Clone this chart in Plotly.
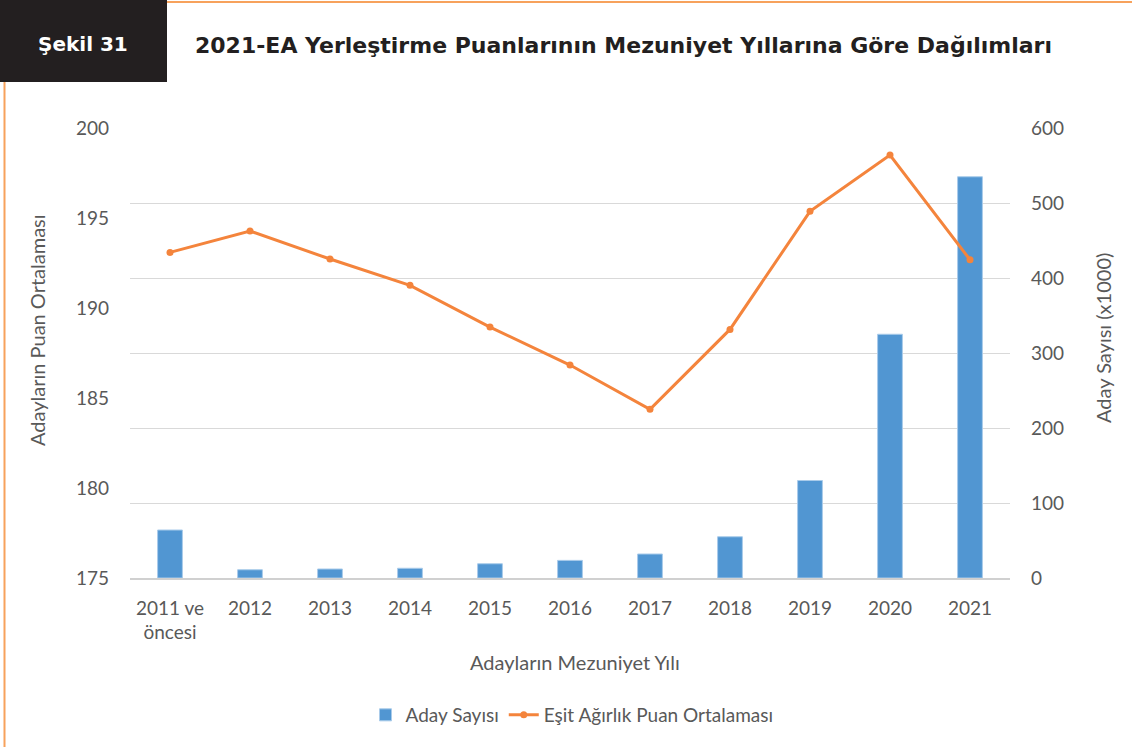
import plotly.graph_objects as go

# Mezuniyet yılları ve seriler
years = ["2011 ve<br>öncesi", "2012", "2013", "2014", "2015", "2016",
         "2017", "2018", "2019", "2020", "2021"]
aday_sayisi = [64, 11, 12, 13, 19, 23.5, 32, 55, 130, 325, 535]  # x1000
ea_puan = [193.09, 194.28, 192.72, 191.26, 188.94, 186.83,
           184.37, 188.81, 195.37, 198.5, 192.68]

left_ticks = [175, 180, 185, 190, 195, 200]
right_ticks = [0, 100, 200, 300, 400, 500, 600]

W, H = 1132, 747
ML, MR, MT, MB = 130, 122, 128, 169
PW, PH = W - ML - MR, H - MT - MB


def px(x):
    return (x - ML) / PW


def py(y):
    return (H - MB - y) / PH


BLUE = "#5196d2"
ORANGE = "#f4843c"
GREY = "#595959"
FONT = "Lato"
HEAD_FONT = "DejaVu Sans"

fig = go.Figure()
fig.add_trace(go.Bar(
    x=years, y=aday_sayisi, name="Aday Sayısı",
    marker=dict(color=BLUE, line=dict(color="#a9cbea", width=1)),
    yaxis="y",
))
fig.add_trace(go.Scatter(
    x=years, y=ea_puan, name="Eşit Ağırlık Puan Ortalaması",
    mode="lines+markers",
    line=dict(color=ORANGE, width=3),
    marker=dict(color=ORANGE, size=7),
    yaxis="y2",
))

shapes = [
    # siyah başlık kutusu
    dict(type="rect", xref="paper", yref="paper",
         x0=px(0), x1=px(167), y0=py(82), y1=py(-2),
         fillcolor="#231f20", line=dict(width=0), layer="above"),
    # turuncu çerçeve çizgileri
    dict(type="line", xref="paper", yref="paper",
         x0=px(167), x1=px(1134), y0=py(2), y1=py(2),
         line=dict(color="#f7a25c", width=2)),
    dict(type="line", xref="paper", yref="paper",
         x0=px(4.5), x1=px(4.5), y0=py(82), y1=py(749),
         line=dict(color="#f7a25c", width=2)),
]

annotations = [
    dict(text="<b>Şekil 31</b>", x=px(83), y=py(44), xref="paper", yref="paper",
         showarrow=False, font=dict(family=HEAD_FONT, size=20, color="white"),
         xanchor="center", yanchor="middle"),
    dict(text="<b>2021-EA Yerleştirme Puanlarının Mezuniyet Yıllarına Göre Dağılımları</b>",
         x=px(623), y=py(45), xref="paper", yref="paper", showarrow=False,
         font=dict(family=HEAD_FONT, size=22, color="#231f20"),
         xanchor="center", yanchor="middle"),
    dict(text="Adayların Puan Ortalaması", x=px(37), y=py(330),
         xref="paper", yref="paper", showarrow=False, textangle=-90,
         font=dict(family=FONT, size=20, color=GREY),
         xanchor="center", yanchor="middle"),
    dict(text="Aday Sayısı (x1000)", x=px(1103), y=py(338),
         xref="paper", yref="paper", showarrow=False, textangle=-90,
         font=dict(family=FONT, size=20, color=GREY),
         xanchor="center", yanchor="middle"),
    dict(text="Adayların Mezuniyet Yılı", x=px(575), y=py(662),
         xref="paper", yref="paper", showarrow=False,
         font=dict(family=FONT, size=20, color=GREY),
         xanchor="center", yanchor="middle"),
]

fig.update_layout(
    width=W, height=H,
    margin=dict(l=ML, r=MR, t=MT, b=MB, autoexpand=False),
    paper_bgcolor="white", plot_bgcolor="white",
    font=dict(family=FONT, size=19, color=GREY),
    bargap=0.69,
    xaxis=dict(
        type="category", range=[-0.5, len(years) - 0.5],
        showgrid=False, ticks="", automargin=False,
        showline=True, linecolor="#d0d0d0", linewidth=1.5,
        ticklabelstandoff=12, tickfont=dict(size=19, color=GREY),
    ),
    yaxis=dict(
        side="right", range=[0, 600], tickvals=right_ticks, automargin=False,
        showgrid=True, gridcolor="#d9d9d9", gridwidth=1,
        zeroline=False, showline=False, ticks="",
        ticklabelstandoff=20, tickfont=dict(size=19, color=GREY),
    ),
    yaxis2=dict(
        side="left", overlaying="y", range=[175, 200], tickvals=left_ticks,
        automargin=False,
        showgrid=False, zeroline=False, showline=False, ticks="",
        ticklabelstandoff=20, tickfont=dict(size=19, color=GREY),
    ),
    legend=dict(
        orientation="h", x=572 / W, y=1 - 715 / H, xref="container", yref="container",
        xanchor="center", yanchor="middle",
        font=dict(size=19, color=GREY), bgcolor="rgba(0,0,0,0)",
        traceorder="normal",
    ),
    shapes=shapes,
    annotations=annotations,
)

fig.write_html("out.html")
